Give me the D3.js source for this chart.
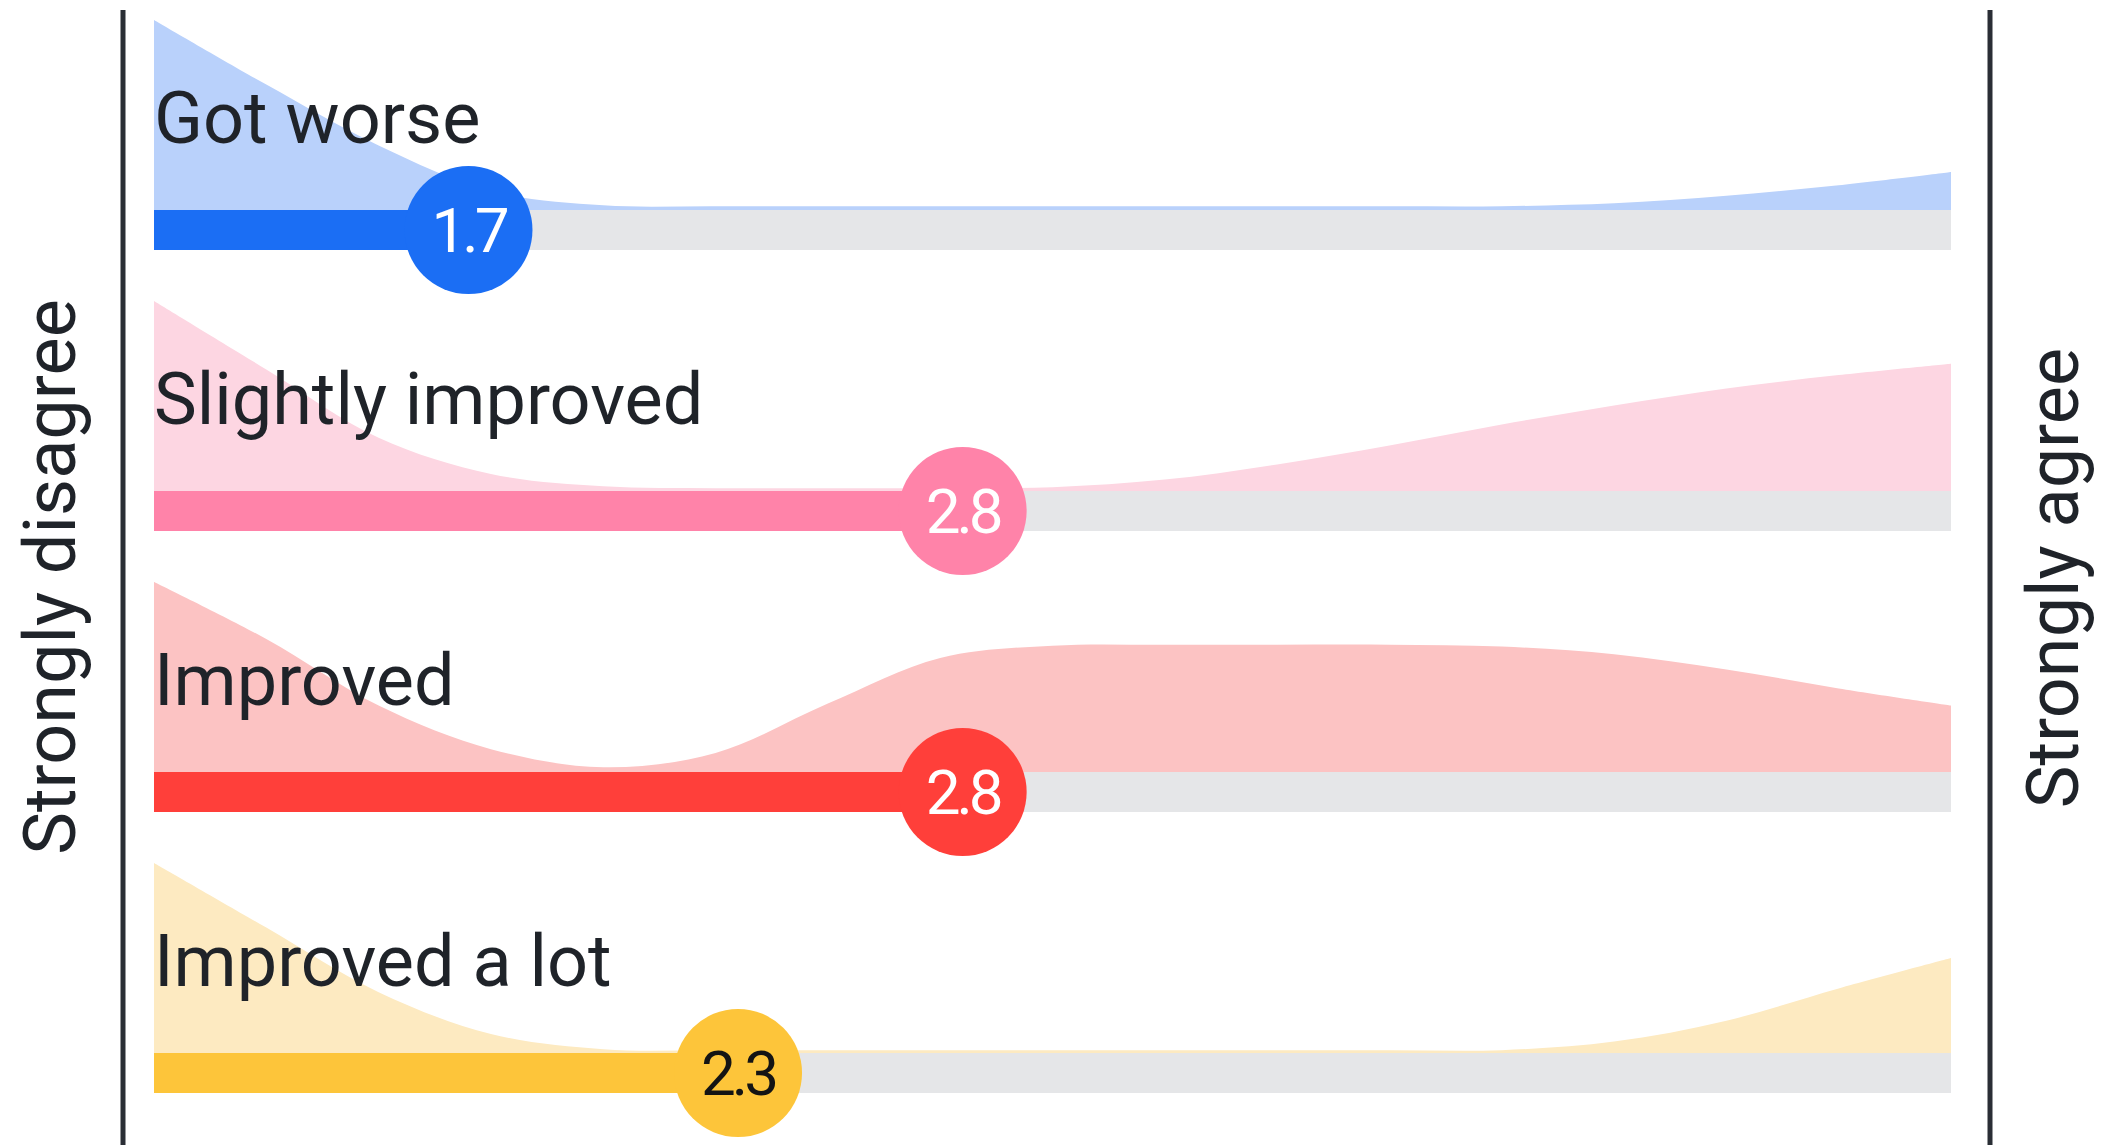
<!DOCTYPE html>
<html>
<head>
<meta charset="utf-8">
<script src="https://cdn.jsdelivr.net/npm/d3@7"></script>
<style>
  body { margin: 0; background: #ffffff; }
  text { font-family: Roboto, "Noto Sans", sans-serif; }
</style>
</head>
<body>
<div id="chart"></div>
<script>
      // answers, mean score per answer group
      var categories = ["Got worse", "Slightly improved", "Improved", "Improved a lot"];
      var means = [1.7, 2.8, 2.8, 2.3];
      var meanLabels = ["1.7", "2.8", "2.8", "2.3"];

      // density curves, sampled along the 1..5 agreement scale (relative to each row's peak)
      var densityX = [1, 1.25, 1.5, 1.75, 2, 2.25, 2.5, 2.75, 3, 3.25, 3.5, 3.75, 4, 4.25, 4.5, 4.75, 5];
      var densityGotWorse = [1.0, 0.66, 0.34, 0.10, 0.025, 0.02, 0.02, 0.02, 0.02, 0.02, 0.02, 0.02, 0.02, 0.035, 0.075, 0.13, 0.2];
      var densitySlightly = [1.0, 0.64, 0.28, 0.09, 0.025, 0.015, 0.015, 0.015, 0.02, 0.06, 0.14, 0.24, 0.35, 0.45, 0.54, 0.61, 0.67];
      var densityImproved = [1.0, 0.70, 0.35, 0.12, 0.025, 0.1, 0.36, 0.6, 0.665, 0.67, 0.67, 0.67, 0.66, 0.62, 0.54, 0.44, 0.35];
      var densityALot = [1.0, 0.66, 0.32, 0.10, 0.02, 0.015, 0.015, 0.015, 0.015, 0.015, 0.015, 0.015, 0.015, 0.06, 0.17, 0.34, 0.5];
      var densities = [densityGotWorse, densitySlightly, densityImproved, densityALot];

      var axisLeftLabel = "Strongly disagree";
      var axisRightLabel = "Strongly agree";

      var strongColors = ["#1b6ef4", "#ff83a9", "#ff3f3a", "#fdc53a"];
      var lightColors = ["#b9d1fb", "#fdd6e2", "#fcc3c3", "#fdeac1"];
      var valueTextColors = ["#ffffff", "#ffffff", "#ffffff", "#141414"];

      var width = 2101;
      var height = 1145;
      var trackHeight = 40;
      var circleRadius = 64;
      var peakHeight = 190;

      var svg = d3.select('#chart').append('svg')
          .attr('width', width)
          .attr('height', height)

      // agreement scale 1..5 to pixel space
      var xScale = d3.scaleLinear()
          .domain([1, 5])
          .range([154, 1951])

      // row centres
      var rowScale = d3.scalePoint()
          .domain(categories)
          .range([230, 1073])

      // density height above the track
      var densityScale = d3.scaleLinear()
          .domain([0, 1])
          .range([0, peakHeight])

      // the two end lines
      svg.selectAll('line.end')
          .data([1, 5])
          .enter()
          .append('line')
              .attr('class', 'end')
              .attr('x1', d => d == 1 ? xScale(d) - 31 : xScale(d) + 39)
              .attr('x2', d => d == 1 ? xScale(d) - 31 : xScale(d) + 39)
              .attr('y1', 10)
              .attr('y2', height)
              .attr('stroke', '#2a2e35')
              .attr('stroke-width', 5)

      svg.append('text')
          .attr('transform', 'translate(75, 577) rotate(-90)')
          .style('text-anchor', 'middle')
          .style('font-size', '72px')
          .attr('fill', '#1f2329')
          .text(axisLeftLabel)

      svg.append('text')
          .attr('transform', 'translate(2078, 578) rotate(-90)')
          .style('text-anchor', 'middle')
          .style('font-size', '72px')
          .attr('fill', '#1f2329')
          .text(axisRightLabel)

      var rows = svg.selectAll('g.row')
          .data(categories)
          .enter()
          .append('g')
              .attr('class', 'row')
              .attr('transform', d => 'translate(0,' + rowScale(d) + ')')

      // density area sitting on top of the track (dips below are hidden by the track)
      rows.append('path')
          .attr('fill', (d, i) => lightColors[i])
          .attr('d', function (d, i) {
                var area = d3.area()
                    .x(p => xScale(p[0]))
                    .y0(-trackHeight / 2)
                    .y1(p => -trackHeight / 2 - densityScale(p[1]))
                    .curve(d3.curveCatmullRom.alpha(0.5))
                return area(densityX.map((x, j) => [x, densities[i][j]]))
          })

      // grey track
      rows.append('rect')
          .attr('x', xScale(1))
          .attr('y', -trackHeight / 2)
          .attr('width', xScale(5) - xScale(1))
          .attr('height', trackHeight)
          .attr('fill', '#e5e6e8')

      // filled part up to the mean
      rows.append('rect')
          .attr('x', xScale(1))
          .attr('y', -trackHeight / 2)
          .attr('width', (d, i) => xScale(means[i]) - xScale(1))
          .attr('height', trackHeight)
          .attr('fill', (d, i) => strongColors[i])

      rows.append('circle')
          .attr('cx', (d, i) => xScale(means[i]))
          .attr('cy', 0)
          .attr('r', circleRadius)
          .attr('fill', (d, i) => strongColors[i])

      rows.append('text')
          .attr('x', (d, i) => xScale(means[i]))
          .attr('y', 22)
          .style('text-anchor', 'middle')
          .style('font-size', '62px')
          .style('letter-spacing', '-4px')
          .attr('fill', (d, i) => valueTextColors[i])
          .text((d, i) => meanLabels[i])

      // answer labels
      rows.append('text')
          .attr('x', xScale(1))
          .attr('y', -87)
          .style('font-size', '72px')
          .attr('fill', '#1f2329')
          .text(d => d)
</script>
</body>
</html>
